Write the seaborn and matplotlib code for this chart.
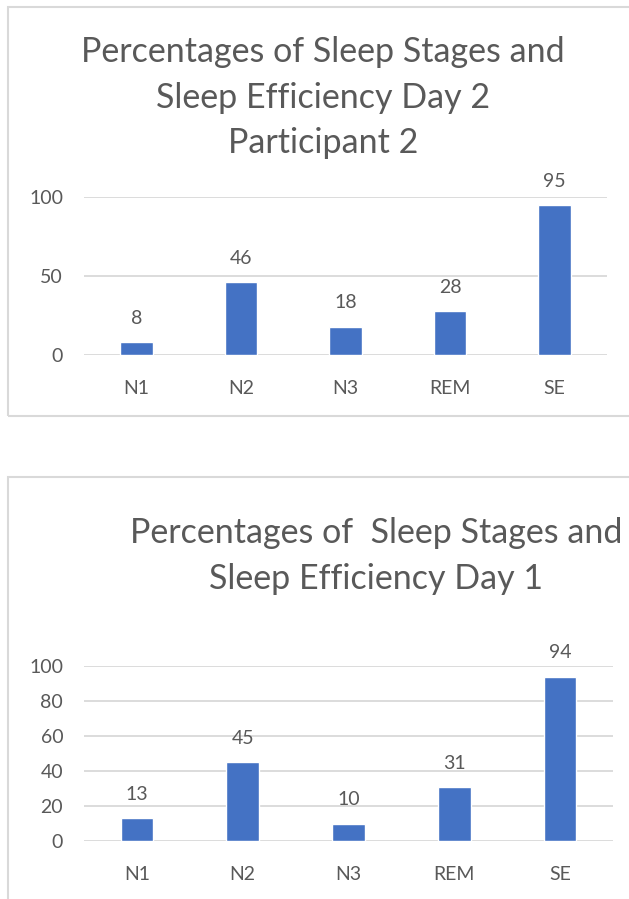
# Percentages of sleep stages and sleep efficiency, two Excel-style charts stacked

import matplotlib.pyplot as plt
import pandas as pd
import seaborn as sns
from matplotlib.patches import Rectangle

stages = ['N1', 'N2', 'N3', 'REM', 'SE']
day2_values = [8, 46, 18, 28, 95]
day1_values = [13, 45, 10, 31, 94]

day2_title = ['Percentages of Sleep Stages and', 'Sleep Efficiency Day 2', 'Participant 2']
day1_title = ['Percentages of  Sleep Stages and', 'Sleep Efficiency Day 1']

BAR = '#4472C4'
GRID = '#d9d9d9'
TEXT = '#595959'

sns.set_theme(style='white')
plt.rcParams['font.family'] = ['Lato', 'DejaVu Sans']

fig = plt.figure(figsize=(6.29, 8.99), dpi=100)

# chart frames
fig.patches.append(Rectangle((8 / 629, 1 - 416 / 899), 1.0, 409 / 899,
                             transform=fig.transFigure, fill=False,
                             edgecolor=GRID, linewidth=1.5))
fig.patches.append(Rectangle((8 / 629, -0.1), 1.0, 0.1 + 1 - 477 / 899,
                             transform=fig.transFigure, fill=False,
                             edgecolor=GRID, linewidth=1.5))


def draw_chart(ax, values, yticks):
    df = pd.DataFrame({'stage': stages, 'value': values})
    sns.barplot(data=df, x='stage', y='value', color=BAR, width=0.31,
                saturation=1, ax=ax)
    ax.set_ylim(0, 100)
    ax.set_xlim(-0.5, len(stages) - 0.5)
    ax.set_yticks(yticks)
    ax.yaxis.grid(True, color=GRID, linewidth=1.3)
    ax.set_axisbelow(True)
    for s in ax.spines.values():
        s.set_visible(False)
    ax.set_xlabel('')
    ax.set_ylabel('')
    ax.tick_params(axis='both', length=0, labelsize=14, colors=TEXT)
    ax.tick_params(axis='y', pad=15)
    ax.tick_params(axis='x', pad=18)
    for i, v in enumerate(values):
        ax.annotate(str(v), (i, v), xytext=(0, 17), textcoords='offset points',
                    ha='center', va='center', fontsize=14, color=TEXT)


ax_top = fig.add_axes([84 / 629, 1 - 355 / 899, 523 / 629, 158 / 899])
draw_chart(ax_top, day2_values, [0, 50, 100])

ax_bot = fig.add_axes([84 / 629, 1 - 841 / 899, 529 / 629, 175 / 899])
draw_chart(ax_bot, day1_values, [0, 20, 40, 60, 80, 100])

for line, y in zip(day2_title, [52, 98, 143]):
    fig.text(323 / 629, 1 - y / 899, line, ha='center', va='center',
             fontsize=24.5, color=TEXT)
for line, y in zip(day1_title, [533, 579]):
    fig.text(376 / 629, 1 - y / 899, line, ha='center', va='center',
             fontsize=24.5, color=TEXT)

fig.savefig('out.png', dpi=100)
